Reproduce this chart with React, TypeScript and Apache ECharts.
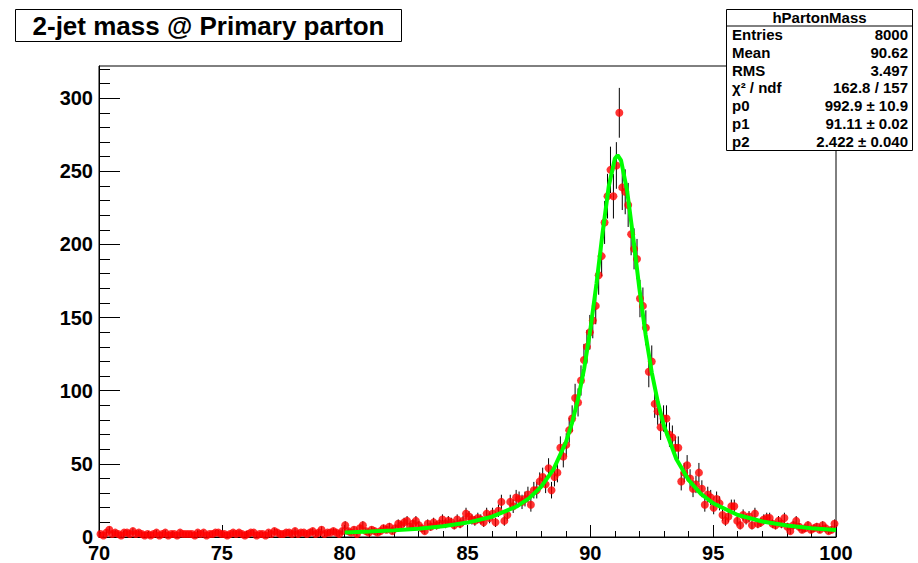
import React, { useEffect, useRef } from "react";
import * as echarts from "echarts";

// Histogram: 250 bins from 70 to 100
const BIN_LOW = 70;
const BIN_HIGH = 100;
const counts = [
  2, 1, 3, 5, 2, 3, 2, 1, 3, 3,
  2, 4, 2, 3, 2, 1, 2, 1, 2, 3,
  1, 2, 3, 1, 2, 2, 1, 3, 2, 2,
  2, 2, 1, 3, 2, 3, 1, 2, 2, 3,
  3, 2, 2, 1, 2, 3, 2, 3, 2, 1,
  2, 3, 3, 1, 2, 2, 1, 3, 2, 4,
  3, 2, 2, 3, 3, 2, 4, 2, 3, 3,
  2, 3, 4, 2, 3, 5, 2, 3, 3, 4,
  3, 2, 4, 8, 4, 3, 5, 2, 6, 8,
  4, 3, 5, 4, 3, 4, 6, 5, 7, 4,
  6, 9, 8, 10, 11, 7, 9, 11, 8, 6,
  4, 9, 7, 10, 8, 9, 12, 9, 11, 10,
  8, 12, 9, 11, 16, 14, 12, 11, 13, 12,
  10, 16, 13, 16, 10, 18, 24, 11, 15, 24,
  21, 27, 26, 24, 26, 29, 22, 32, 32, 38,
  41, 36, 47, 32, 41, 44, 61, 55, 63, 73,
  81, 95, 92, 107, 121, 130, 140, 148, 158, 179,
  192, 215, 233, 251, 233, 254, 290, 239, 236, 227,
  207, 197, 190, 163, 158, 143, 113, 120, 91, 86,
  75, 81, 81, 70, 68, 61, 61, 38, 44, 49,
  40, 33, 36, 44, 33, 22, 29, 27, 20, 26,
  23, 15, 11, 14, 21, 21, 11, 8, 15, 12,
  14, 8, 16, 9, 10, 12, 13, 13, 9, 8,
  11, 9, 13, 7, 4, 8, 11, 7, 5, 6,
  8, 5, 6, 7, 5, 8, 6, 4, 5, 9,
];

// Fitted curve (80 .. 100)
const fitX = [80, 81, 82, 83, 84, 85, 86, 87, 87.5, 88, 88.5, 89, 89.25, 89.5, 89.75, 90, 90.25, 90.5, 90.75, 91, 91.11, 91.25, 91.5, 91.75, 92, 92.25, 92.5, 92.75, 93, 93.5, 94, 94.5, 95, 96, 97, 98, 99, 100];
const fitY = [3.06, 3.69, 4.53, 5.69, 7.36, 9.86, 13.87, 20.84, 26.4, 34.4, 46.2, 64.6, 77.6, 94.3, 115.3, 141.7, 173.2, 208.1, 239.8, 258.8, 261.0, 257.5, 236.4, 204.0, 169.4, 138.4, 112.6, 92.1, 75.9, 53.3, 39.0, 29.5, 23.05, 15.07, 10.58, 7.83, 6.01, 4.75];

const yMax = 322;
const yMajorTicks = [0, 50, 100, 150, 200, 250, 300];
const yMinorTicks = [10, 20, 30, 40, 60, 70, 80, 90, 110, 120, 130, 140, 160, 170, 180, 190, 210, 220, 230, 240, 260, 270, 280, 290, 310, 320];

const titleText = "2-jet mass @ Primary parton";
const statTitle = "hPartonMass";
const statLabels = ["Entries", "Mean", "RMS", "χ² / ndf", "p0", "p1", "p2"];
const statValues = ["8000", "90.62", "3.497", "162.8 / 157", "992.9 ± 10.9", "91.11 ± 0.02", "2.422 ± 0.040"];

const FONT = '"Liberation Sans", Arial, Helvetica, sans-serif';

export default function App() {
  const ref = useRef<HTMLDivElement>(null);

  useEffect(() => {
    if (!ref.current) return;
    const chart = echarts.init(ref.current, undefined, { renderer: "svg" });
    const nBins = counts.length;
    const w = (BIN_HIGH - BIN_LOW) / nBins;
    const points = counts.map((c, i) => [BIN_LOW + w * (i + 0.5), c, Math.sqrt(c)]);
    const fitData = fitX.map((x, i) => [x, fitY[i]]);

    const statRowY0 = 34.5;
    const statRowDy = 17.8;
    const statElems: any[] = [
      {
        type: "rect",
        shape: { x: 726.5, y: 9.5, width: 186, height: 141 },
        style: { fill: "#fff", stroke: "#000", lineWidth: 1 },
        z: 100,
      },
      {
        type: "line",
        shape: { x1: 726.5, y1: 26, x2: 912.5, y2: 26 },
        style: { stroke: "#000", lineWidth: 1 },
        z: 101,
      },
      {
        type: "text",
        x: 819.5,
        y: 17.5,
        style: { text: statTitle, font: `bold 15px ${FONT}`, fill: "#000", align: "center", verticalAlign: "middle" },
        z: 102,
      },
    ];
    statLabels.forEach((lab, i) => {
      statElems.push({
        type: "text",
        x: 732,
        y: statRowY0 + statRowDy * i,
        style: { text: lab, font: `bold 15px ${FONT}`, fill: "#000", align: "left", verticalAlign: "middle" },
        z: 102,
      });
      statElems.push({
        type: "text",
        x: 908,
        y: statRowY0 + statRowDy * i,
        style: { text: statValues[i], font: `bold 15px ${FONT}`, fill: "#000", align: "right", verticalAlign: "middle" },
        z: 102,
      });
    });

    const option: any = {
      animation: false,
      backgroundColor: "#fff",
      grid: { left: 99, top: 66, width: 737, height: 473, show: true, borderColor: "#000", borderWidth: 1, backgroundColor: "transparent" },
      xAxis: {
        type: "value",
        min: 70,
        max: 100,
        interval: 5,
        axisLine: { show: true, lineStyle: { color: "#000", width: 1 } },
        axisTick: { show: true, inside: true, length: 12, lineStyle: { color: "#000", width: 1 } },
        minorTick: { show: true, splitNumber: 5, length: 6, lineStyle: { color: "#000", width: 1 } },
        axisLabel: { color: "#000", fontSize: 20, fontWeight: "bold", fontFamily: FONT, margin: 6 },
        splitLine: { show: false },
        minorSplitLine: { show: false },
      },
      yAxis: [
        {
          type: "value",
          min: 0,
          max: yMax,
          position: "left",
          axisLine: { show: true, lineStyle: { color: "#000", width: 1 } },
          axisTick: { show: true, inside: true, length: 21, customValues: yMajorTicks, lineStyle: { color: "#000", width: 1 } },
          axisLabel: { customValues: yMajorTicks, color: "#000", fontSize: 20, fontWeight: "bold", fontFamily: FONT, margin: 6 },
          splitLine: { show: false },
        },
        {
          type: "value",
          min: 0,
          max: yMax,
          position: "left",
          offset: 0,
          axisLine: { show: false },
          axisTick: { show: true, inside: true, length: 11, customValues: yMinorTicks, lineStyle: { color: "#000", width: 1 } },
          axisLabel: { show: false },
          splitLine: { show: false },
        },
      ],
      series: [
        {
          type: "custom",
          z: 2,
          clip: true,
          data: points,
          renderItem: (params: any, api: any) => {
            const x = api.value(0);
            const y = api.value(1);
            const e = api.value(2);
            const lo = Math.max(0, y - e);
            const p1 = api.coord([x, lo]);
            const p2 = api.coord([x, y + e]);
            return {
              type: "line",
              shape: { x1: p1[0], y1: p1[1], x2: p2[0], y2: p2[1] },
              style: { stroke: "#000", lineWidth: 1 },
            };
          },
        },
        {
          type: "scatter",
          z: 3,
          clip: false,
          symbol: "circle",
          symbolSize: 8,
          itemStyle: { color: "#ff0000" },
          data: points.map((p) => [p[0], p[1]]),
        },
        {
          type: "line",
          z: 4,
          showSymbol: false,
          smooth: false,
          lineStyle: { color: "#00ff00", width: 4 },
          data: fitData,
        },
      ],
      graphic: [
        {
          type: "rect",
          shape: { x: 15.5, y: 9.5, width: 386, height: 32 },
          style: { fill: "#fff", stroke: "#000", lineWidth: 1 },
          z: 100,
        },
        {
          type: "text",
          x: 208.5,
          y: 25.5,
          style: { text: titleText, font: `bold 26px ${FONT}`, fill: "#000", align: "center", verticalAlign: "middle" },
          z: 101,
        },
        ...statElems,
      ],
    };
    chart.setOption(option);
    return () => chart.dispose();
  }, []);

  return <div ref={ref} style={{ position: "absolute", left: 0, top: 0, width: 918, height: 563 }} />;
}
